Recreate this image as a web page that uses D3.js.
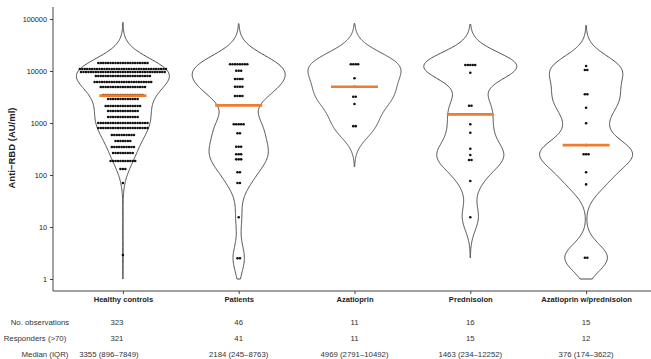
<!DOCTYPE html>
<html><head><meta charset="utf-8">
<script src="https://cdn.jsdelivr.net/npm/d3@7"></script>
<style>
html,body{margin:0;padding:0;background:#fff;}
svg{display:block;font-family:"Liberation Sans",Arial,sans-serif;}
</style></head>
<body><svg id="c" width="651" height="359"></svg>
<script>
// ---- data ----
const categories = ["Healthy controls","Patients","Azatioprin","Prednisolon","Azatioprin w/prednisolon"];
const healthyLevels = [14260,10920,9570,8010,6140,4920,3450,2895,2122,1700,1305,1000,801,588,451,345,265,186,130,70,2.9];
const healthyCounts = [21,36,35,23,24,19,17,13,15,13,13,21,21,10,7,10,9,11,3,1,1];
const patientsLevels = [13450,10140,7020,4990,3305,944,634,350,250,200,113,70,15.4,2.5];
const patientsCounts = [8,3,4,4,4,5,2,3,3,3,2,2,1,2];
const azaLevels = [13500,7260,4969,3205,2318,870];
const azaCounts = [4,1,1,2,1,2];
const predLevels = [13030,9270,2153,944,651,320,242,194,76.7,15.4];
const predCounts = [5,1,2,1,1,1,1,2,1,1];
const azaPredLevels = [12480,10450,3565,1968,987,376,250,113,66,2.57];
const azaPredCounts = [1,2,2,1,1,1,3,1,1,2];
const medians = [3355,2184,4969,1463,376];
const yTicks = [1,10,100,1000,10000,100000];
const rowLabels = ["No. observations","Responders (>70)","Median (IQR)"];
const nObs = [323,46,11,16,15];
const responders = [321,41,11,15,12];
const medianIQR = ["3355 (896\u20137849)","2184 (245\u20138763)","4969 (2791\u201310492)","1463 (234\u201312252)","376 (174\u20133622)"];

const groups = [
  [healthyLevels, healthyCounts],
  [patientsLevels, patientsCounts],
  [azaLevels, azaCounts],
  [predLevels, predCounts],
  [azaPredLevels, azaPredCounts]
];

// ---- layout ----
const svg = d3.select("#c");
const x = d3.scalePoint().domain(categories).range([122.9, 586.1]);
const y = d3.scaleLog().domain([1, 100000]).range([279, 19]);
const panelLeft = 53, panelTop = 7, panelBottom = 291, panelRight = 651;
const halfMax = 46.5, bw = 0.26, dotStep = 2.46, dotR = 1.3;

// violins (Gaussian KDE on log10 values, fixed bandwidth, untrimmed, clipped to axis limits)
groups.forEach(([lv, ct], gi) => {
  const vals = [];
  lv.forEach((v, i) => { for (let k = 0; k < ct[i]; k++) vals.push(Math.log10(v)); });
  const lo = Math.max(0, d3.min(vals) - 3*bw), hi = Math.min(5, d3.max(vals) + 3*bw);
  const N = 300, pts = [];
  for (let i = 0; i <= N; i++) {
    const t = lo + (hi - lo) * i / N;
    let s = 0;
    for (const v of vals) { const u = (t - v) / bw; s += Math.exp(-0.5*u*u); }
    pts.push({t, d: s / (vals.length * bw * Math.sqrt(2*Math.PI))});
  }
  const mx = d3.max(pts, p => p.d);
  const cx = x(categories[gi]);
  const area = d3.area()
    .x0(p => cx - p.d/mx*halfMax)
    .x1(p => cx + p.d/mx*halfMax)
    .y(p => y(Math.pow(10, p.t)));
  svg.append("path").attr("d", area(pts))
    .attr("fill", "#fff").attr("stroke", "#4a4a4a").attr("stroke-width", 1);
});

// dots (centered stacks)
groups.forEach(([lv, ct], gi) => {
  const cx = x(categories[gi]);
  lv.forEach((v, i) => {
    const k = ct[i];
    for (let j = 0; j < k; j++) {
      svg.append("circle")
        .attr("cx", cx + (j - (k-1)/2) * dotStep)
        .attr("cy", y(v)).attr("r", dotR).attr("fill", "#111");
    }
  });
});

// medians
medians.forEach((m, gi) => {
  const cx = x(categories[gi]);
  svg.append("line").attr("x1", cx - 23.5).attr("x2", cx + 23.5)
    .attr("y1", y(m)).attr("y2", y(m))
    .attr("stroke", "#ED7D31").attr("stroke-width", 2.6);
});

// axes
const yAxis = svg.append("g").attr("transform", `translate(${panelLeft},0)`)
  .call(d3.axisLeft(y).tickValues(yTicks).tickFormat(d3.format("d")).tickSize(3).tickPadding(3));
yAxis.select(".domain").remove();
yAxis.selectAll("line").attr("stroke", "#444");
yAxis.selectAll("text").attr("font-size", 7.3).attr("fill", "#222").attr("font-family", "Liberation Sans, Arial, sans-serif");
svg.append("line").attr("x1", panelLeft).attr("x2", panelLeft).attr("y1", panelTop).attr("y2", panelBottom)
  .attr("stroke", "#444").attr("stroke-width", 1);

const xAxis = svg.append("g").attr("transform", `translate(0,${panelBottom})`)
  .call(d3.axisBottom(x).tickSize(3).tickPadding(3));
xAxis.select(".domain").remove();
xAxis.selectAll("line").attr("stroke", "#444");
xAxis.selectAll("text").attr("font-size", 7.6).attr("font-weight", "bold").attr("fill", "#222")
  .attr("font-family", "Liberation Sans, Arial, sans-serif");
svg.append("line").attr("x1", panelLeft).attr("x2", panelRight).attr("y1", panelBottom).attr("y2", panelBottom)
  .attr("stroke", "#444").attr("stroke-width", 1);

// y title
svg.append("text").attr("transform", "translate(15,148) rotate(-90)")
  .attr("text-anchor", "middle").attr("font-size", 9.5).attr("font-weight", "bold").attr("fill", "#222")
  .text("Anti\u2212RBD (AU/ml)");

// table
const rowsY = [325, 341, 357];
const rowData = [nObs, responders, medianIQR];
const labelX = [40, 35, 45];
rowLabels.forEach((lab, r) => {
  svg.append("text").attr("x", labelX[r]).attr("y", rowsY[r]).attr("text-anchor", "middle")
    .attr("font-size", 7.8).attr("fill", "#333").text(lab);
  rowData[r].forEach((v, gi) => {
    const off = gi === 0 ? (r === 2 ? -14 : -6) : 0;
    svg.append("text").attr("x", x(categories[gi]) + off).attr("y", rowsY[r])
      .attr("text-anchor", "middle").attr("font-size", 7.8).attr("fill", "#333").text(v);
  });
});
</script>
</body></html>
